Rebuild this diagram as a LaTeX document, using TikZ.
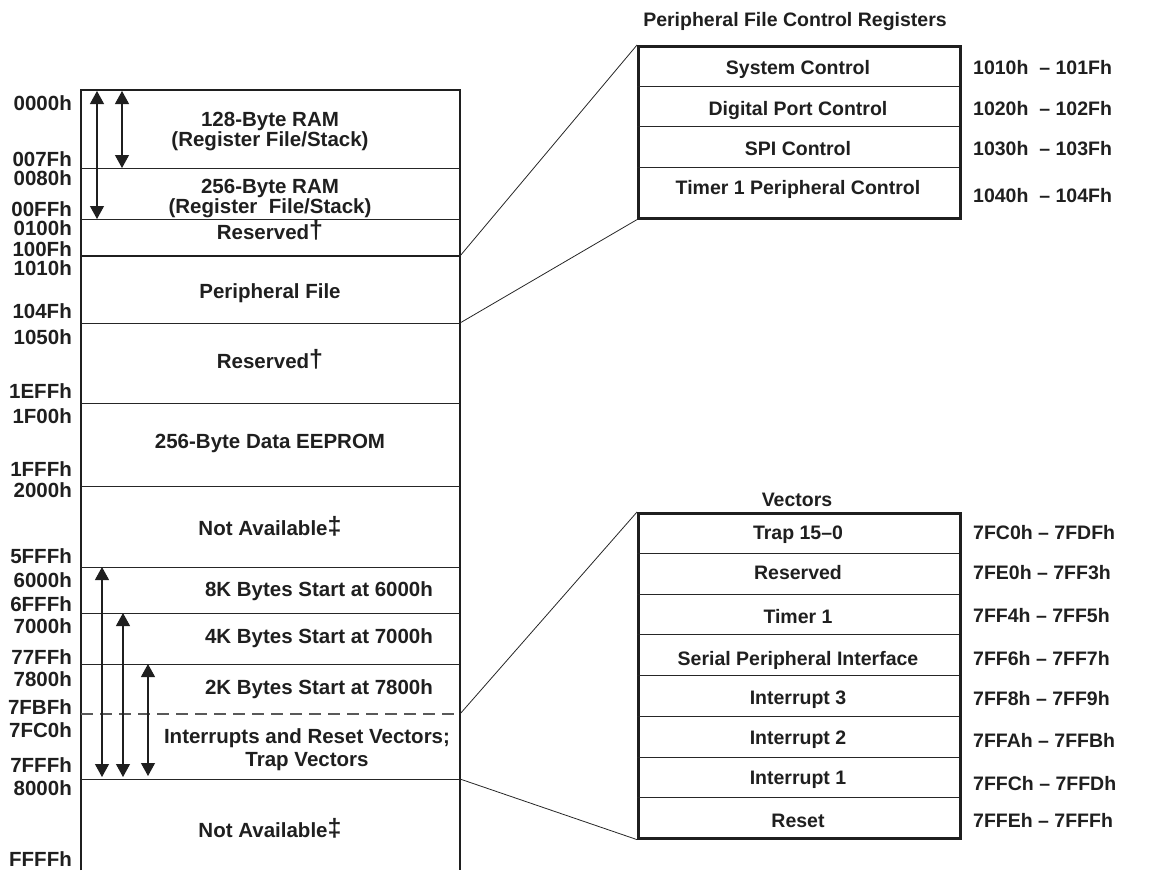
\documentclass[tikz,border=0pt]{standalone}
\usepackage{fontspec}
\setmainfont{Liberation Sans}
\usetikzlibrary{arrows.meta}
\newcommand{\mydag}{{\fontsize{25}{25}\selectfont\raisebox{1pt}{\dag}}}
\newcommand{\myddag}{{\fontsize{25}{25}\selectfont\raisebox{1pt}{\ddag}}}
\begin{document}
\begin{tikzpicture}[x=1pt,y=-1pt,
  every node/.style={inner sep=0pt, font=\bfseries\fontsize{19.5}{23}\selectfont, text=black!88},
  big/.style={font=\bfseries\fontsize{20.5}{23}\selectfont},
  lbl/.style={anchor=base east, big},
  txt/.style={anchor=base, big},
  rtxt/.style={anchor=base},
  addr/.style={anchor=base west},
  rowline/.style={line width=1pt, black!85},
  frame/.style={line width=2.6pt, black!88},
  span/.style={{Triangle[width=14pt,length=13pt]}-{Triangle[width=14pt,length=13pt]}, line width=1.1pt, black!88},
  conn/.style={line width=0.8pt, black!85},
  regbox/.style={draw, frame, anchor=north west, minimum width=322pt}
]
\useasboundingbox (0,0) rectangle (1159,870);
% ---------------- main memory map ----------------
\draw[frame] (81,870) -- (81,90) -- (460,90) -- (460,870);
\foreach \y in {168,219,323,403,486,567,613,664,779}
  \draw[rowline] (81,\y) -- (460,\y);
\draw[line width=2pt, black!88] (81,256) -- (460,256);
\draw[line width=1.1pt, black!65, dash pattern=on 12pt off 7pt] (81,714) -- (460,714);
\coordinate (pfA) at (460,256);
\coordinate (pfB) at (460,323);
\coordinate (vA) at (460,714);
\coordinate (vB) at (460,779);
% address labels
\foreach \y/\t [count=\i] in {110/0000h,166/007Fh,185/0080h,216/00FFh,235/0100h,256/100Fh,275/1010h,318/104Fh,344/1050h,398/1EFFh,423/1F00h,476/1FFFh,497/2000h,563/5FFFh,587/6000h,611/6FFFh,633/7000h,664/77FFh,686/7800h,714/7FBFh,737/7FC0h,772/7FFFh,795/8000h,866/FFFFh}
  \node[lbl] (L\i) at (72,\y) {\t};
% region texts
\node[txt] (t1) at (270,126) {128-Byte RAM};
\node[txt] (t1b) at (270,146) {(Register File/Stack)};
\node[txt] (t2) at (270,193) {256-Byte RAM};
\node[txt] (t2b) at (270,213) {(Register\ \ File/Stack)};
\node[txt] (t3) at (270,239) {Reserved\mydag};
\node[txt] (t4) at (270,298) {Peripheral File};
\node[txt] (t5) at (270,368) {Reserved\mydag};
\node[txt] (t6) at (270,448) {256-Byte Data EEPROM};
\node[txt] (t7) at (270,535) {Not Available\myddag};
\node[txt] (t8) at (319,596) {8K Bytes Start at 6000h};
\node[txt] (t9) at (319,643) {4K Bytes Start at 7000h};
\node[txt] (t10) at (319,694) {2K Bytes Start at 7800h};
\node[txt] (t11) at (307,743) {Interrupts and Reset Vectors;};
\node[txt] (t11b) at (307,766) {Trap Vectors};
\node[txt] (t12) at (270,837) {Not Available\myddag};
% span arrows
\coordinate (a1t) at (97,91);  \coordinate (a1b) at (97,219);
\coordinate (a2t) at (122,91); \coordinate (a2b) at (122,168);
\coordinate (a3t) at (102,567); \coordinate (a3b) at (102,777);
\coordinate (a4t) at (123,613); \coordinate (a4b) at (123,777);
\coordinate (a5t) at (148,664); \coordinate (a5b) at (148,776);
\draw[span] (a1t) -- (a1b);
\draw[span] (a2t) -- (a2b);
\draw[span] (a3t) -- (a3b);
\draw[span] (a4t) -- (a4b);
\draw[span] (a5t) -- (a5b);
% ---------------- peripheral file control registers ----------------
\node[rtxt] (pftitle) at (795,27) {Peripheral File Control Registers};
\node[regbox, minimum height=172pt] (pfbox) at (637,45) {};
\foreach \y in {86,126,167}
  \draw[rowline] (637,\y) -- (959,\y);
\foreach \y/\t [count=\i] in {74/System Control,115/Digital Port Control,155/SPI Control,194/Timer 1 Peripheral Control}
  \node[rtxt] (pf\i) at (798,\y) {\t};
\foreach \y/\a [count=\i] in {74/1010h\ \ -- 101Fh,115/1020h\ \ -- 102Fh,155/1030h\ \ -- 103Fh,202/1040h\ \ -- 104Fh}
  \node[addr] (pfa\i) at (973,\y) {\a};
\draw[conn] (pfA) -- (pfbox.north west);
\draw[conn] (pfB) -- (pfbox.south west);
% ---------------- vectors ----------------
\node[rtxt] (vtitle) at (797,506) {Vectors};
\node[regbox, minimum height=325pt] (vbox) at (637,512) {};
\foreach \y in {553,594,634,675,716,757,797}
  \draw[rowline] (637,\y) -- (959,\y);
\foreach \y/\t [count=\i] in {539/Trap 15--0,579/Reserved,623/Timer 1,665/Serial Peripheral Interface,704/Interrupt 3,744/Interrupt 2,784/Interrupt 1,827/Reset}
  \node[rtxt] (v\i) at (798,\y) {\t};
\foreach \y/\a [count=\i] in {539/7FC0h -- 7FDFh,579/7FE0h -- 7FF3h,622/7FF4h -- 7FF5h,665/7FF6h -- 7FF7h,705/7FF8h -- 7FF9h,747/7FFAh -- 7FFBh,790/7FFCh -- 7FFDh,827/7FFEh -- 7FFFh}
  \node[addr] (va\i) at (973,\y) {\a};
\draw[conn] (vA) -- (vbox.north west);
\draw[conn] (vB) -- (vbox.south west);
\end{tikzpicture}
\end{document}
